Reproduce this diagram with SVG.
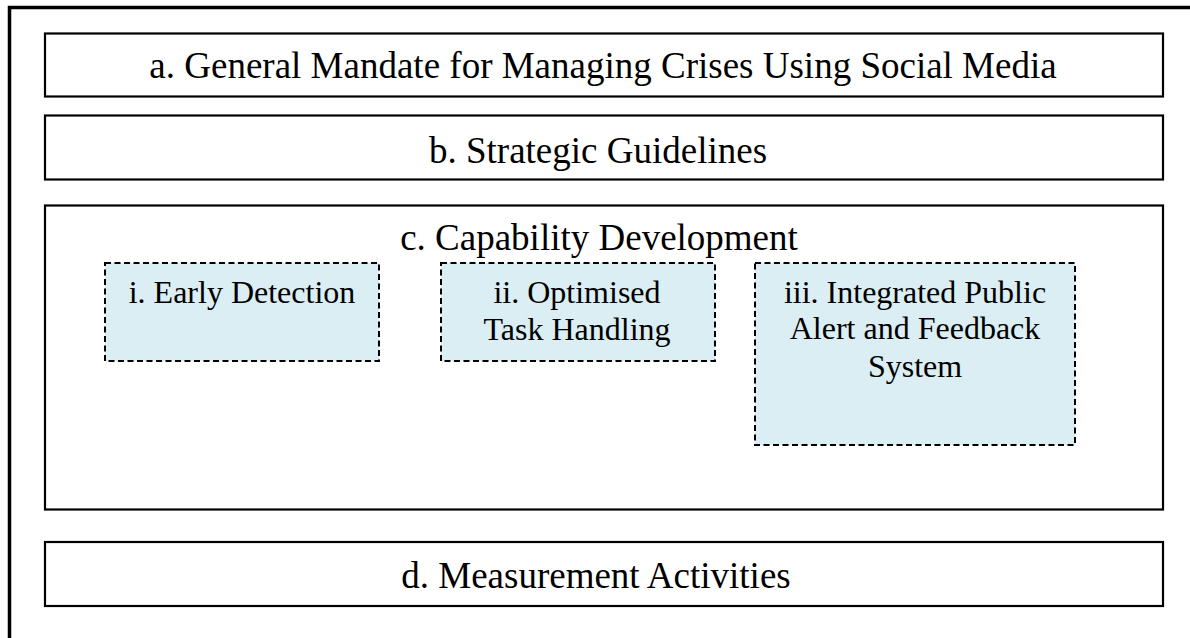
<svg xmlns="http://www.w3.org/2000/svg" width="1190" height="638" viewBox="0 0 1190 638">
  <style>
    .frame { fill: none; stroke: #000; stroke-width: 3.5; }
    .box { fill: #fff; stroke: #000; stroke-width: 2.2; }
    .sub { fill: #DAEEF3; stroke: #000; stroke-width: 2; stroke-dasharray: 6 3.5; }
    .t { font-family: "Liberation Serif", "Times New Roman", serif; fill: #000; text-anchor: middle; }
    .big { font-size: 37px; }
    .small { font-size: 32px; }
  </style>
  <rect x="0" y="0" width="1190" height="638" fill="#fff"/>
  <rect class="frame" x="9.5" y="7.5" width="1220" height="680"/>
  <g id="node-a">
    <rect class="box" x="45" y="33.5" width="1118" height="63"/>
    <text class="t big" x="603" y="78">a. General Mandate for Managing Crises Using Social Media</text>
  </g>
  <g id="node-b">
    <rect class="box" x="45" y="115.5" width="1118" height="64"/>
    <text class="t big" x="598" y="163">b. Strategic Guidelines</text>
  </g>
  <g id="node-c">
    <rect class="box" x="45" y="205.5" width="1118" height="304"/>
    <text class="t big" x="599" y="250">c. Capability Development</text>
  </g>
  <g id="node-c-i">
    <rect class="sub" x="105" y="263" width="274" height="98"/>
    <text class="t small" x="242" y="303">i. Early Detection</text>
  </g>
  <g id="node-c-ii">
    <rect class="sub" x="441" y="263" width="274" height="98"/>
    <text class="t small" x="577" y="303">ii. Optimised</text>
    <text class="t small" x="577" y="340">Task Handling</text>
  </g>
  <g id="node-c-iii">
    <rect class="sub" x="755" y="263" width="320" height="182"/>
    <text class="t small" x="915" y="303">iii. Integrated Public</text>
    <text class="t small" x="915" y="339">Alert and Feedback</text>
    <text class="t small" x="915" y="377">System</text>
  </g>
  <g id="node-d">
    <rect class="box" x="45" y="542" width="1118" height="64"/>
    <text class="t big" x="596" y="588">d. Measurement Activities</text>
  </g>
  <g id="connectors"></g>
</svg>
